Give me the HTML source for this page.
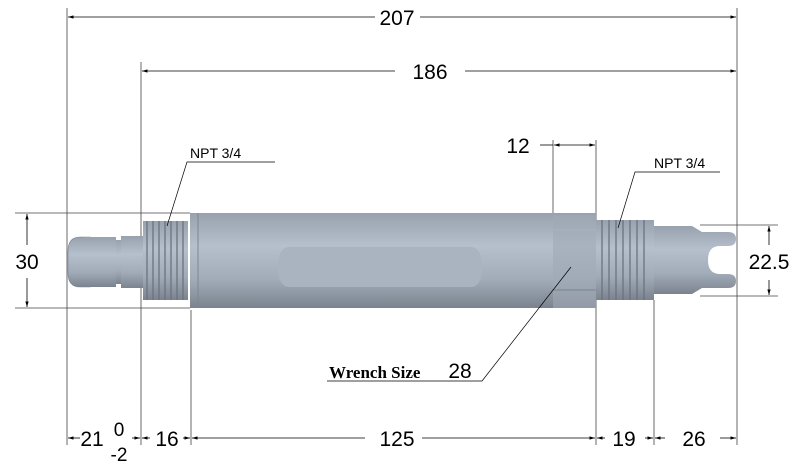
<!DOCTYPE html>
<html><head><style>html,body{margin:0;padding:0;background:#fff}svg{display:block}</style></head><body>
<svg width="800" height="472" viewBox="0 0 800 472" xmlns="http://www.w3.org/2000/svg" font-family="Liberation Sans, sans-serif">
<defs>
<linearGradient id="g" x1="0" y1="0" x2="0" y2="1">
<stop offset="0" stop-color="#98a2ae"/><stop offset="0.35" stop-color="#b6c0cc"/><stop offset="0.7" stop-color="#a2acb8"/><stop offset="1" stop-color="#7a838e"/></linearGradient>
<marker id="a" viewBox="0 0 10 10" refX="10" refY="5" markerWidth="7" markerHeight="7" orient="auto-start-reverse"><path d="M0,2 L10,5 L0,8z" fill="#000"/></marker>
</defs>
<g stroke="#444" stroke-width="0.8" fill="none">
<line x1="67" y1="8" x2="67" y2="445"/><line x1="737" y1="8" x2="737" y2="445"/>
<line x1="141" y1="62" x2="141" y2="445"/><line x1="191" y1="310" x2="191" y2="445"/>
<line x1="596" y1="140" x2="596" y2="445"/><line x1="654" y1="300" x2="654" y2="445"/>
<line x1="553" y1="140" x2="553" y2="215"/>
<line x1="15" y1="213" x2="190" y2="213"/><line x1="15" y1="308" x2="190" y2="308"/>
<line x1="700" y1="225" x2="778" y2="225"/><line x1="700" y1="296" x2="778" y2="296"/>
</g>
<g stroke="#000" stroke-width="0.8" fill="none" marker-start="url(#a)" marker-end="url(#a)">
<line x1="68" y1="17" x2="375" y2="17" marker-end="none"/><line x1="420" y1="17" x2="736" y2="17" marker-start="none"/>
<line x1="142" y1="71" x2="395" y2="71" marker-end="none"/><line x1="465" y1="71" x2="736" y2="71" marker-start="none"/>
<line x1="554" y1="145" x2="595" y2="145"/>
<line x1="27" y1="214" x2="27" y2="245" marker-end="none"/><line x1="27" y1="278" x2="27" y2="307" marker-start="none"/>
<line x1="769" y1="226" x2="769" y2="245" marker-end="none"/><line x1="769" y1="280" x2="769" y2="295" marker-start="none"/>
<line x1="68" y1="438" x2="80" y2="438" marker-end="none"/><line x1="132" y1="438" x2="140" y2="438" marker-start="none"/>
<line x1="142" y1="438" x2="150" y2="438" marker-end="none"/><line x1="183" y1="438" x2="190" y2="438" marker-start="none"/>
<line x1="192" y1="438" x2="365" y2="438" marker-end="none"/><line x1="422" y1="438" x2="595" y2="438" marker-start="none"/>
<line x1="597" y1="438" x2="605" y2="438" marker-end="none"/><line x1="645" y1="438" x2="653" y2="438" marker-start="none"/>
<line x1="655" y1="438" x2="665" y2="438" marker-end="none"/><line x1="720" y1="438" x2="736" y2="438" marker-start="none"/>
</g>
<line x1="540" y1="145" x2="553" y2="145" stroke="#000" stroke-width="0.8"/>
<!-- part -->
<path d="M80,237 h10 v50 h-10 q-12,0 -12,-14 v-22 q0,-14 12,-14z" fill="url(#g)" stroke="#7a838e" stroke-width="0.6"/>
<rect x="84" y="237" width="32" height="50" fill="url(#g)"/>
<rect x="116" y="240" width="5" height="44" fill="url(#g)"/>
<rect x="121" y="236" width="22" height="52" fill="url(#g)"/>
<rect x="143" y="221" width="45" height="79" fill="url(#g)"/>
<g stroke="#6a737d" stroke-width="1.3">
<line x1="147" y1="221" x2="147" y2="300"/><line x1="153" y1="221" x2="153" y2="300"/><line x1="159" y1="221" x2="159" y2="300"/><line x1="165" y1="221" x2="165" y2="300"/><line x1="171" y1="221" x2="171" y2="300"/><line x1="177" y1="221" x2="177" y2="300"/><line x1="183" y1="221" x2="183" y2="300"/>
</g>
<rect x="190" y="213" width="406" height="95" fill="url(#g)"/>
<line x1="198" y1="213" x2="198" y2="308" stroke="#7d8691"/>
<path d="M290,247 h180 q12,0 12,20 q0,20 -12,20 h-180 q-12,0 -12,-20 q0,-20 12,-20z" fill="#aab4c1"/>
<rect x="553" y="215" width="43" height="93" fill="#a0aab6" opacity="0.6"/>
<line x1="553" y1="230" x2="596" y2="230" stroke="#aab4c0"/><line x1="553" y1="290" x2="596" y2="290" stroke="#7a838e"/>
<rect x="596" y="220" width="58" height="80" fill="url(#g)"/>
<g stroke="#6a737d" stroke-width="1.3">
<line x1="602" y1="220" x2="602" y2="300"/><line x1="609" y1="220" x2="609" y2="300"/><line x1="616" y1="220" x2="616" y2="300"/><line x1="623" y1="220" x2="623" y2="300"/><line x1="630" y1="220" x2="630" y2="300"/><line x1="637" y1="220" x2="637" y2="300"/><line x1="644" y1="220" x2="644" y2="300"/>
</g>
<path d="M654,226 h38 l10,6 h26 q8,0 8,7 q0,7 -8,7 h-8 q-12,0 -12,14 q0,14 12,14 h8 q8,0 8,7 q0,7 -8,7 h-26 l-10,6 h-38z" fill="url(#g)"/>
<!-- leaders -->
<g stroke="#000" stroke-width="0.7" fill="none">
<polyline points="167,226 187,162 275,162"/>
<polyline points="618,228 635,172 720,172"/>
<polyline points="571,267 482,381 327,381"/>
</g>
<g font-size="21" text-anchor="middle">
<text x="397" y="25">207</text><text x="430" y="79">186</text><text x="518" y="153">12</text>
<text x="27" y="269">30</text><text x="769" y="269">22.5</text>
<text x="397" y="446">125</text><text x="624" y="446">19</text><text x="694" y="446">26</text><text x="167" y="446">16</text><text x="92" y="446">21</text>
<text x="119" y="436" font-size="19">0</text><text x="119" y="461" font-size="19">-2</text>
<text x="460" y="378">28</text>
</g>
<text x="190" y="158" font-size="14">NPT 3/4</text><text x="654" y="168" font-size="14">NPT 3/4</text>
<text x="329" y="378" font-size="17" font-weight="bold" font-family="Liberation Serif, serif">Wrench Size</text>
</svg>
</body></html>
